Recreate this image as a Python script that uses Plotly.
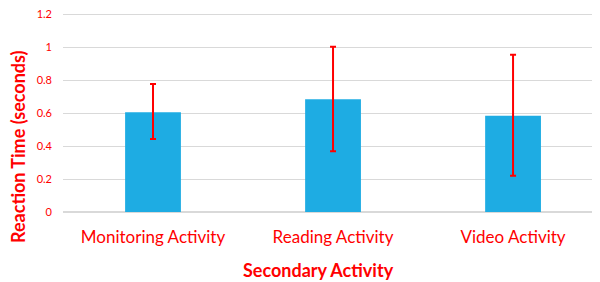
import plotly.graph_objects as go

categories = ["Monitoring Activity", "Reading Activity", "Video Activity"]
reaction_time = [0.607, 0.685, 0.585]
err_plus = [0.171, 0.319, 0.371]
err_minus = [0.164, 0.316, 0.364]
y_ticks = [0, 0.2, 0.4, 0.6, 0.8, 1, 1.2]
y_tick_labels = ["0", "0.2", "0.4", "0.6", "0.8", "1", "1.2"]

RED = "#FF0000"
FONT = "Lato, Carlito, sans-serif"

# page has an 8px body margin; plot area in page coords: x 63..600, y 8..212
L, T, B_PLOT = 55, 0, 204
H_PLOT = B_PLOT - T
W_PLOT = 592 - L

fig = go.Figure(
    go.Bar(
        x=categories,
        y=reaction_time,
        width=0.31,
        marker=dict(color="#1EACE3", line=dict(width=0)),
        error_y=dict(
            type="data",
            symmetric=False,
            array=err_plus,
            arrayminus=err_minus,
            color=RED,
            thickness=2,
            width=3,
        ),
    )
)

fig.update_layout(
    width=600,
    height=282,
    margin=dict(l=L, r=600 - 592, t=T, b=282 - B_PLOT),
    paper_bgcolor="white",
    plot_bgcolor="white",
    showlegend=False,
    font=dict(family=FONT, color=RED),
    xaxis=dict(
        range=[-0.5, 2.483],
        automargin=False,
        showgrid=False,
        showline=False,
        ticks="",
        ticklabelstandoff=13,
        tickfont=dict(size=17, color=RED, family=FONT),
    ),
    yaxis=dict(
        range=[0, 1.24],
        automargin=False,
        tickvals=y_ticks,
        ticktext=y_tick_labels,
        showgrid=True,
        gridcolor="#D9D9D9",
        gridwidth=1,
        zeroline=True,
        zerolinecolor="#D9D9D9",
        zerolinewidth=1.5,
        showline=False,
        ticks="",
        ticklabelstandoff=10,
        ticklabeloverflow="allow",
        tickfont=dict(size=11, color=RED, family=FONT),
    ),
    annotations=[
        dict(
            text="<b>Secondary Activity</b>",
            xref="paper", yref="paper",
            x=(310 - L) / W_PLOT, y=-(262 - B_PLOT) / H_PLOT,
            xanchor="center", yanchor="middle",
            showarrow=False,
            font=dict(size=18, color=RED, family=FONT),
        ),
        dict(
            text="<b>Reaction Time (seconds)</b>",
            xref="paper", yref="paper",
            x=-(L - 10) / W_PLOT, y=(B_PLOT - 139) / H_PLOT,
            xanchor="center", yanchor="middle",
            textangle=-90,
            showarrow=False,
            font=dict(size=18, color=RED, family=FONT),
        ),
    ],
)

fig.write_html("out.html")
